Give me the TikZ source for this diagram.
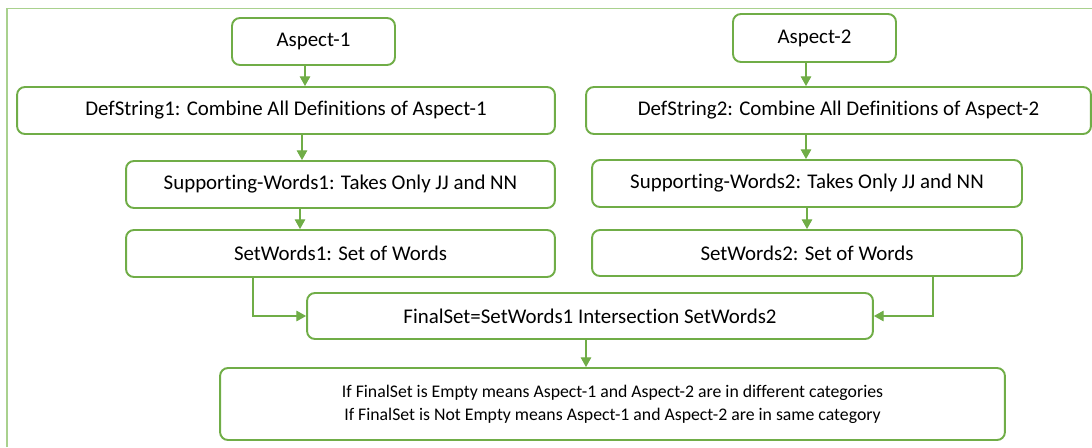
\documentclass[tikz,border=0pt]{standalone}
\usepackage{fontspec}
\setmainfont{Carlito}[Ligatures={NoCommon}]
\usetikzlibrary{arrows.meta}
\definecolor{boxgreen}{RGB}{112,173,71}
\definecolor{framegreen}{RGB}{169,209,142}
\begin{document}
\begin{tikzpicture}[x=0.02cm,y=-0.02cm,
  box/.style={draw=boxgreen,line width=1.1pt,rounded corners=4.5pt,align=center,
    inner sep=0pt,font=\fontsize{11.9}{14}\selectfont},
  arr/.style={draw=boxgreen,line width=0.6pt,-{Triangle[width=6pt,length=5.5pt]}}]
\useasboundingbox (0,0) rectangle (1092,447);
\draw[framegreen,line width=1.1pt] (7,447) -- (7,8.5) -- (1092,8.5);

\node[box,minimum width=3.26cm,minimum height=0.94cm](asp1) at (313.5,41.5) {Aspect-1};
\node[box,minimum width=3.26cm,minimum height=0.96cm](asp2) at (814.5,38) {Aspect-2};
\node[box,minimum width=10.76cm,minimum height=0.94cm](def1) at (286,110.5) {DefString1: Combine All Definitions of Aspect-1};
\node[box,minimum width=10.10cm,minimum height=0.94cm](def2) at (838.5,110.5) {DefString2: Combine All Definitions of Aspect-2};
\node[box,minimum width=8.58cm,minimum height=0.94cm](sup1) at (340.5,184.5) {Supporting-Words1: Takes Only JJ and NN};
\node[box,minimum width=8.60cm,minimum height=0.94cm](sup2) at (807,183.5) {Supporting-Words2: Takes Only JJ and NN};
\node[box,minimum width=8.58cm,minimum height=0.94cm](set1) at (340.5,253.5) {SetWords1: Set of Words};
\node[box,minimum width=8.60cm,minimum height=0.92cm](set2) at (807,253) {SetWords2: Set of Words};
\node[box,minimum width=11.32cm,minimum height=0.92cm](final) at (590,316) {FinalSet=SetWords1 Intersection SetWords2};
\node[box,minimum width=15.70cm,minimum height=1.44cm,font=\fontsize{10.1}{13}\selectfont](res) at (612.5,404)
  {If FinalSet is Empty means Aspect-1 and Aspect-2 are in different categories\\
   If FinalSet is Not Empty means Aspect-1 and Aspect-2 are in same category};

\draw[arr] ([xshift=-0.17cm]asp1.south) -- ([xshift=-0.17cm]asp1.south |- def1.north);
\draw[arr] ([xshift=0.32cm]def1.south) -- ([xshift=0.32cm]def1.south |- sup1.north);
\draw[arr] ([xshift=-0.81cm]sup1.south) -- ([xshift=-0.81cm]sup1.south |- set1.north);

\draw[arr] ([xshift=-0.17cm]asp2.south) -- ([xshift=-0.17cm]asp2.south |- def2.north);
\draw[arr] ([xshift=-0.65cm]def2.south) -- ([xshift=-0.65cm]def2.south |- sup2.north);
\draw[arr] (sup2.south) -- (set2.north);

\draw[arr] ([xshift=-2.73cm]set1.south) -- ([xshift=-1.75cm]set1.south) |- (final.west);
\draw[arr] ([xshift=2.52cm]set2.south) |- (final.east);
\draw[arr] ([xshift=-0.08cm]final.south) -- ([xshift=-0.08cm]final.south |- res.north);

\end{tikzpicture}
\end{document}
